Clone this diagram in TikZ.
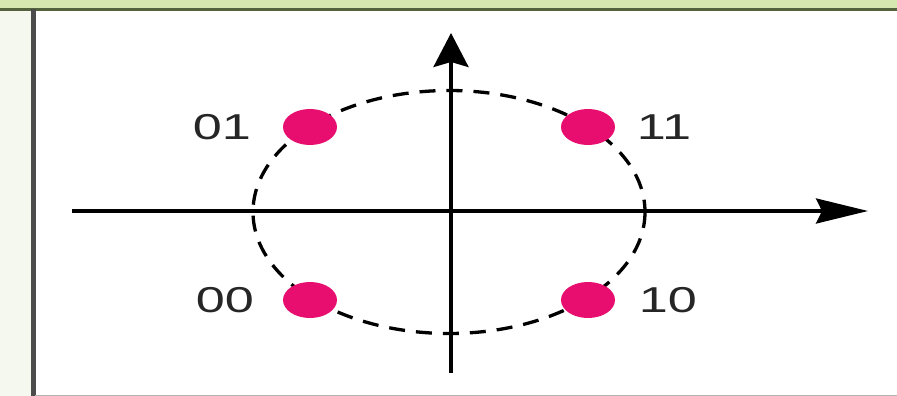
\documentclass[tikz,border=0pt]{standalone}
\usepackage{fontspec}
\setmainfont{Liberation Sans}
\usetikzlibrary{arrows.meta,shapes.geometric}
\definecolor{bandgreen}{RGB}{214,232,176}
\definecolor{margreen}{RGB}{244,248,238}
\definecolor{olive}{RGB}{84,98,62}
\definecolor{dotmag}{RGB}{232,14,112}
\tikzset{
  axis/.style={line width=3.5pt,black},
  ring/.style={line width=3.3pt,black,dash pattern=on 16pt off 11pt},
  dotnode/.style={ellipse,fill=dotmag,draw=none,minimum width=54pt,minimum height=36pt,inner sep=0pt},
  lbl/.style={font=\fontsize{36}{36}\selectfont,text=black!85,inner sep=0pt,xscale=1.45,transform shape}
}
\begin{document}
\begin{tikzpicture}[x=1pt,y=-1pt]
\useasboundingbox (0,0) rectangle (897,396);
% background and frame
\fill[margreen] (0,0) rectangle (897,396);
\fill[white] (35,10) rectangle (897,395);
\fill[bandgreen] (0,0) rectangle (897,8);
\draw[olive,line width=3pt] (0,9.5) -- (897,9.5);
\draw[black!70,line width=5pt] (33.5,9) -- (33.5,396);
\draw[black!30,line width=1.2pt] (35,395.4) -- (897,395.4);
% coordinates
\coordinate (xs) at (72,211);
\coordinate (xe) at (868,211);
\coordinate (ys) at (451,373);
\coordinate (ye) at (451,33);
\coordinate (c) at (449,212);
% dashed circle
\draw[ring] (c) ellipse [x radius=196, y radius=121.5];
% axes
\draw[axis,-{Stealth[length=52pt,width=25pt,inset=6pt]}] (xs) -- (xe);
\draw[axis,-{Stealth[length=34pt,width=35pt,inset=5pt]}] (ys) -- (ye);
% points
\node[dotnode] (p01) at (310,127) {};
\node[dotnode] (p11) at (588,127) {};
\node[dotnode] (p00) at (310,300) {};
\node[dotnode] (p10) at (588,300) {};
% labels
\node[lbl] (l01) at (222,127) {01};
\node[lbl] (l11) at (664,127) {11};
\node[lbl] (l00) at (225,300) {00};
\node[lbl] (l10) at (668,300) {10};
\end{tikzpicture}
\end{document}
